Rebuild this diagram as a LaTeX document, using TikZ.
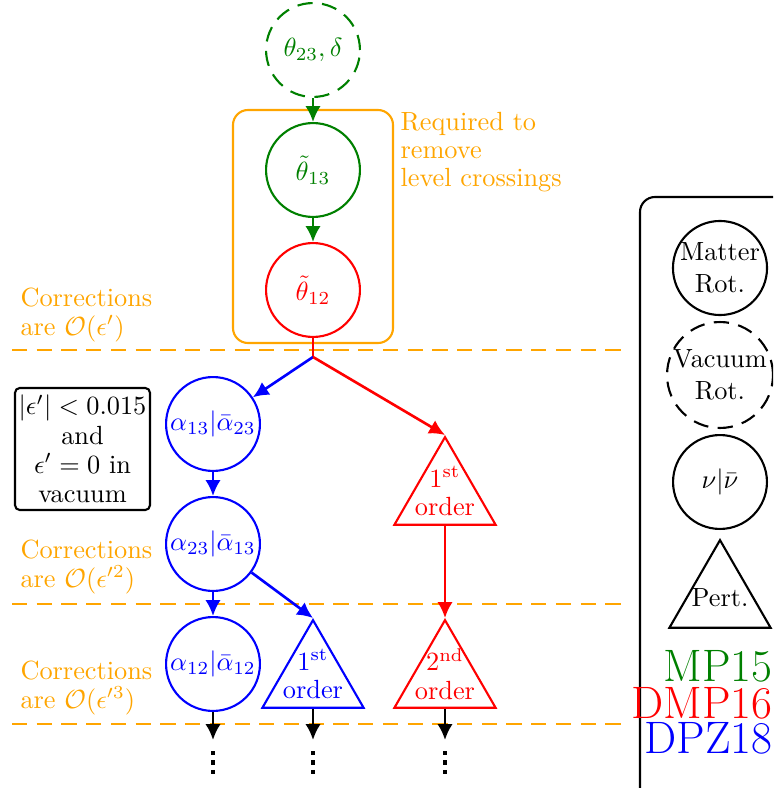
\documentclass[tikz,border=0pt]{standalone}
\usetikzlibrary{arrows.meta,shapes.geometric,calc}
\definecolor{myorange}{RGB}{255,165,0}
\definecolor{mygreen}{RGB}{0,128,0}
\begin{document}
\begin{tikzpicture}[x=0.3802pt,y=-0.3802pt,
  every node/.style={inner sep=0pt},
  arr/.style={line width=1pt,-{Latex[length=6pt,width=5.8pt]}},
  circ/.style={circle,thick,minimum size=35.7pt,inner sep=0pt},
  tri/.style={regular polygon,regular polygon sides=3,thick,minimum size=44.4pt,inner sep=0pt},
  dsh/.style={dash pattern=on 5.8pt off 3.6pt},
  sep/.style={myorange,thick,dsh},
  olab/.style={myorange,align=left,anchor=base west,font=\fontsize{10}{10.8}\selectfont},
  tlab/.style={align=center,font=\fontsize{10}{10.8}\selectfont},
  vdot/.style={line width=1.6pt,dash pattern=on 1.6pt off 2pt},
]
\useasboundingbox (0,0) rectangle (773,788);
\clip (0,0) rectangle (773,788);

% separators
\draw[sep] (12,350) -- (628,350);
\draw[sep] (12,604) -- (628,604);
\draw[sep] (12,724) -- (628,724);

% orange group box
\draw[myorange,thick,rounded corners=5.7pt] (233,110) rectangle (393,343);
\node[olab] (req) at (400,187) {Required to\\remove\\level crossings};

% orange labels
\node[olab] (c1) at (20,335) {Corrections\\are $\mathcal{O}(\epsilon')$};
\node[olab] (c2) at (20,587) {Corrections\\are $\mathcal{O}(\epsilon'^2)$};
\node[olab] (c3) at (20,708) {Corrections\\are $\mathcal{O}(\epsilon'^3)$};

% black info box
\node[draw,thick,rounded corners=1.8pt,minimum width=51.3pt,minimum height=46.4pt,
      align=center,font=\fontsize{10}{11.2}\selectfont] (info) at (82.5,449)
  {$|\epsilon'|<0.015$\\and\\$\epsilon'=0$ in\\vacuum};

% main nodes
\node[circ,draw=mygreen,dsh,text=mygreen] (th23) at (313,50) {$\theta_{23},\delta$};
\node[circ,draw=mygreen,text=mygreen] (th13) at (313,170) {$\tilde\theta_{13}$};
\node[circ,draw=red,text=red] (th12) at (313,290) {$\tilde\theta_{12}$};
\node[circ,draw=blue,text=blue] (a13) at (213,424) {$\alpha_{13}|\bar\alpha_{23}$};
\node[circ,draw=blue,text=blue] (a23) at (213,544) {$\alpha_{23}|\bar\alpha_{13}$};
\node[circ,draw=blue,text=blue] (a12) at (213,664) {$\alpha_{12}|\bar\alpha_{12}$};

\node[tri,draw=red] (r1) at (445,495.5) {};
\node[tlab,red] (r1t) at (445,491) {1\textsuperscript{st}\\order};
\node[tri,draw=blue] (b1) at (313,678.5) {};
\node[tlab,blue] (b1t) at (313,674) {1\textsuperscript{st}\\order};
\node[tri,draw=red] (r2) at (445,678.5) {};
\node[tlab,red] (r2t) at (445,674) {2\textsuperscript{nd}\\order};

\coordinate (split) at (313,357);

% connectors
\draw[arr,mygreen] (th23) -- (th13);
\draw[arr,mygreen] (th13) -- (th12);
\draw[thick,red] (th12.south) -- (split);
\draw[arr,blue] (split) -- (a13);
\draw[arr,red] (split) -- (r1.corner 1);
\draw[arr,blue] (a13) -- (a23);
\draw[arr,blue] (a23) -- (a12);
\draw[arr,blue] (a23) -- (b1.corner 1);
\draw[arr,red] (r1.south) -- (r2.corner 1);

\coordinate (e1) at (213,740);
\coordinate (e2) at (313,740);
\coordinate (e3) at (445,740);
\draw[arr] (a12.south) -- (e1);
\draw[arr] (b1.south) -- (e2);
\draw[arr] (r2.south) -- (e3);
\draw[vdot] (213,751) -- (213,776);
\draw[vdot] (313,751) -- (313,776);
\draw[vdot] (445,751) -- (445,776);

% legend
\draw[thick,rounded corners=5.7pt] (640,800) -- (640,197) -- (800,197);
\node[circ,draw,align=center] (lm) at (720,268) {Matter\\Rot.};
\node[circ,draw,dsh,align=center] (lv) at (720,375) {Vacuum\\Rot.};
\node[circ,draw] (ln) at (720,482) {$\nu|\bar\nu$};
\node[tri,draw] (lp) at (720,598.5) {};
\node (lpt) at (720,598) {Pert.};
\node[mygreen,font=\LARGE,anchor=base east] (mp) at (773,681) {MP15};
\node[red,font=\LARGE,anchor=base east] (dmp) at (773,718) {DMP16};
\node[blue,font=\LARGE,anchor=base east] (dpz) at (773,753) {DPZ18};
\end{tikzpicture}
\end{document}
